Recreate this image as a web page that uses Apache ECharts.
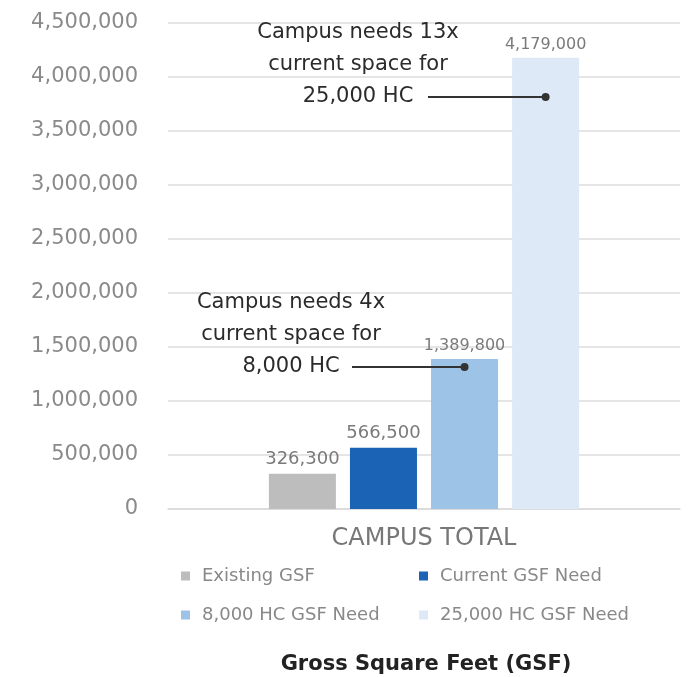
<!DOCTYPE html>
<html>
<head>
<meta charset="utf-8">
<script src="https://cdn.jsdelivr.net/npm/echarts@6/dist/echarts.min.js"></script>
<style>
  html, body { margin: 0; padding: 0; background: #fff; }
  #chart { width: 695px; height: 677px; }
</style>
</head>
<body>
<div id="chart"></div>
<script>
const categories = ['CAMPUS TOTAL']
const seriesNames = ['Existing GSF', 'Current GSF Need', '8,000 HC GSF Need', '25,000 HC GSF Need']
const seriesValues = [326300, 566500, 1389800, 4179000]
const seriesColors = ['#bdbdbd', '#1a63b5', '#9dc3e6', '#dde9f7']

// callouts: which bar they point at, and the level of the line
const callouts = [
  { series: 2, level: 1315000, text: 'Campus needs 4x\ncurrent space for\n8,000 HC', textX: 291, lineStart: 352 },
  { series: 3, level: 3815000, text: 'Campus needs 13x\ncurrent space for\n25,000 HC', textX: 358, lineStart: 428 },
]

const chart = echarts.init(document.getElementById('chart'))
const font = '"DejaVu Sans", sans-serif'
const labelSizes = [18, 18, 16, 16]

const series = seriesNames.map((name, i) => {
  const s = {
    name,
    type: 'bar',
    data: [seriesValues[i]],
    barWidth: 67,
    barGap: '21%',
    itemStyle: { color: seriesColors[i] },
    label: {
      show: true,
      position: 'top',
      distance: 5,
      color: '#7a7a7a',
      fontFamily: font,
      fontSize: labelSizes[i],
      formatter: (p) => p.value.toLocaleString('en-US'),
    },
  }
  const c = callouts.find((c) => c.series === i)
  if (c) {
    s.markLine = {
      silent: true,
      symbol: ['none', 'circle'],
      symbolSize: 8,
      lineStyle: { color: '#333', width: 2, type: 'solid' },
      itemStyle: { color: '#333' },
      label: { show: false },
      data: [[{ coord: [0, c.level], x: c.lineStart }, { coord: [0, c.level] }]],
    }
  }
  return s
})

const legendText = { color: '#888', fontSize: 18, fontFamily: font, padding: [0, 0, 0, 7] }

chart.setOption({
  animation: false,
  grid: { left: 168, right: 15, top: 23, bottom: 168 },
  legend: [
    {
      data: [seriesNames[0], seriesNames[2]],
      orient: 'vertical',
      left: 181, top: 567, padding: 0,
      itemWidth: 9, itemHeight: 9, itemGap: 21,
      icon: 'rect',
      textStyle: legendText,
    },
    {
      data: [seriesNames[1], seriesNames[3]],
      orient: 'vertical',
      left: 419, top: 567, padding: 0,
      itemWidth: 9, itemHeight: 9, itemGap: 21,
      icon: 'rect',
      textStyle: legendText,
    },
  ],
  title: {
    text: 'Gross Square Feet (GSF)',
    left: 421, top: 649, textAlign: 'center',
    textStyle: { color: '#222', fontSize: 21, fontWeight: 'bold', fontFamily: font },
  },
  xAxis: {
    type: 'category',
    data: categories,
    axisLine: { lineStyle: { color: '#d9d9d9', width: 1.5 } },
    axisTick: { show: false },
    axisLabel: { color: '#777', fontSize: 24, fontFamily: font, margin: 18 },
  },
  yAxis: {
    type: 'value',
    min: 0, max: 4500000, interval: 500000,
    axisLine: { show: false },
    axisTick: { show: false },
    splitLine: { lineStyle: { color: '#dcdcdc', width: 1.5 } },
    axisLabel: {
      color: '#8a8a8a', fontSize: 21, fontFamily: font, margin: 30,
      formatter: (v) => v.toLocaleString('en-US'),
    },
  },
  series,
})

// callout texts, anchored on the level of their line
chart.setOption({
  graphic: callouts.map((c) => ({
    type: 'text',
    x: c.textX,
    y: chart.convertToPixel({ yAxisIndex: 0 }, c.level) + 16,
    style: {
      text: c.text,
      align: 'center',
      verticalAlign: 'bottom',
      lineHeight: 32,
      fill: '#2b2b2b',
      fontSize: 21,
      fontFamily: font,
    },
  })),
})

window.addEventListener('resize', () => chart.resize())
</script>
</body>
</html>
